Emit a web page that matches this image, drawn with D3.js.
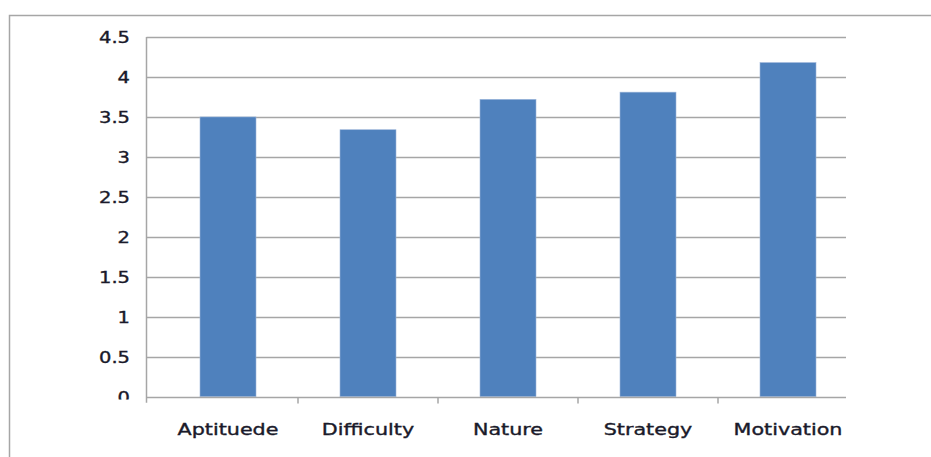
<!DOCTYPE html>
<html>
<head>
<meta charset="utf-8">
<script src="https://cdn.jsdelivr.net/npm/d3@7/dist/d3.min.js"></script>
<style>
  html, body { margin: 0; padding: 0; background: #fff; }
  svg { display: block; }
  text { font-family: "DejaVu Sans", Verdana, sans-serif; fill: #1a1a2a; stroke: #1a1a2a; stroke-width: 0.35px; }
</style>
</head>
<body>
<svg id="chart" width="931" height="457"></svg>
<script>
// Mean score per factor
const categories = ["Aptituede", "Difficulty", "Nature", "Strategy", "Motivation"];
const values = [3.5, 3.34, 3.72, 3.81, 4.18];
const yTicks = [0, 0.5, 1, 1.5, 2, 2.5, 3, 3.5, 4, 4.5];
const yTickLabels = ["0", "0.5", "1", "1.5", "2", "2.5", "3", "3.5", "4", "4.5"];

const svg = d3.select("#chart");
const gridColor = "#a6a6a6";
const barColor = "#4f81bd";

// Outer chart frame (runs off the right and bottom edges)
svg.append("rect")
  .attr("x", 9.5).attr("y", 15.5)
  .attr("width", 960).attr("height", 480)
  .attr("fill", "none").attr("stroke", gridColor).attr("stroke-width", 1.5);

const plotLeft = 146.5, plotRight = 846;
const y = d3.scaleLinear().domain([0, 4.5]).range([396.7, 37]);
const x = d3.scaleBand().domain(categories).range([158, 858])
  .paddingInner(0.6).paddingOuter(0.3);

// Horizontal gridlines
svg.append("g").selectAll("line").data(yTicks.slice(1)).join("line")
  .attr("x1", plotLeft).attr("x2", plotRight)
  .attr("y1", d => Math.round(y(d)) + 0.5).attr("y2", d => Math.round(y(d)) + 0.5)
  .attr("stroke", gridColor).attr("stroke-width", 1.5);

// Bars
svg.append("g").selectAll("rect").data(values).join("rect")
  .attr("x", (d, i) => x(categories[i]))
  .attr("width", x.bandwidth())
  .attr("y", d => y(d))
  .attr("height", d => y(0) - y(d))
  .attr("fill", barColor)
  .attr("stroke", "#9db6da").attr("stroke-width", 0.6);

// Value axis line
svg.append("line")
  .attr("x1", plotLeft).attr("x2", plotLeft)
  .attr("y1", y(4.5)).attr("y2", y(0) + 6)
  .attr("stroke", gridColor).attr("stroke-width", 1.5);

// Category axis baseline and tick marks between categories
const baseY = Math.round(y(0)) + 0.5;
svg.append("line")
  .attr("x1", plotLeft).attr("x2", plotRight)
  .attr("y1", baseY).attr("y2", baseY)
  .attr("stroke", gridColor).attr("stroke-width", 1.5);
const boundaries = categories.slice(1).map(c => x(c) - (x.step() - x.bandwidth()) / 2);
svg.append("g").selectAll("line").data(boundaries).join("line")
  .attr("x1", d => d).attr("x2", d => d)
  .attr("y1", baseY).attr("y2", baseY + 6)
  .attr("stroke", gridColor).attr("stroke-width", 1.5);

// Value tick labels (lowest one is cut by the clip edge)
svg.append("defs").append("clipPath").attr("id", "yclip")
  .append("rect").attr("x", 0).attr("y", 0).attr("width", 146).attr("height", 399.5);
svg.append("g").attr("clip-path", "url(#yclip)")
  .selectAll("text").data(yTicks).join("text")
  .attr("transform", d => `translate(130,${y(d) + 0.5}) scale(1.3,1)`)
  .attr("text-anchor", "end")
  .attr("dy", "0.36em")
  .attr("font-size", 15)
  .text((d, i) => yTickLabels[i]);

// Category labels
svg.append("g").selectAll("text").data(categories).join("text")
  .attr("transform", d => `translate(${x(d) + x.bandwidth() / 2},435) scale(1.38,1)`)
  .attr("text-anchor", "middle")
  .attr("font-size", 15)
  .text(d => d);
</script>
</body>
</html>
